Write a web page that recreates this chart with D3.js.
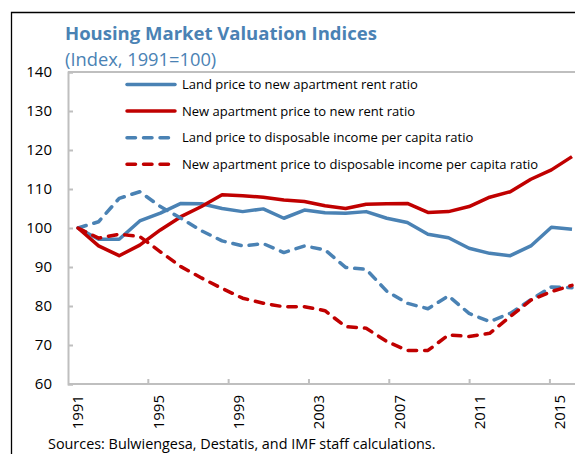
<!DOCTYPE html>
<html>
<head>
<meta charset="utf-8">
<script src="https://cdn.jsdelivr.net/npm/d3@7"></script>
<style>
    body { margin: 0; background: #fff; }
    svg { display: block; }
</style>
</head>
<body>
<div class="chart"></div>
<script>
// Chart settings
const width = 575;
const height = 454;
const font = "'Open Sans', 'Noto Sans', sans-serif";
const blue = "#4a82b4";
const red = "#c00000";

// Data
const years = ["1991", "1992", "1993", "1994", "1995", "1996", "1997", "1998", "1999", "2000",
    "2001", "2002", "2003", "2004", "2005", "2006", "2007", "2008", "2009", "2010",
    "2011", "2012", "2013", "2014", "2015"];
const labelYears = ["1991", "1995", "1999", "2003", "2007", "2011", "2015"];
const yTicks = [60, 70, 80, 90, 100, 110, 120, 130, 140];

const landRent = [100, 97.1, 97.1, 101.8, 103.8, 106.3, 106.2, 105.0, 104.2, 104.9,
    102.5, 104.6, 103.9, 103.8, 104.2, 102.5, 101.4, 98.4, 97.5, 94.8,
    93.5, 92.9, 95.4, 100.2, 99.7];
const aptRent = [100, 95.4, 92.9, 95.6, 99.5, 102.9, 105.5, 108.5, 108.3, 107.9,
    107.2, 106.8, 105.7, 105.0, 106.1, 106.2, 106.3, 104.0, 104.2, 105.5,
    107.9, 109.3, 112.5, 114.9, 118.3];
const landIncome = [100, 101.6, 107.6, 109.3, 105.5, 102.5, 99.3, 96.7, 95.4, 96.0,
    93.7, 95.4, 94.4, 89.9, 89.4, 83.8, 80.7, 79.3, 82.6, 78.1,
    76.0, 78.1, 81.6, 84.9, 84.7];
const aptIncome = [100, 97.4, 98.4, 97.8, 93.9, 90.1, 87.2, 84.5, 82.0, 80.7,
    79.8, 79.8, 78.8, 74.7, 74.3, 70.9, 68.6, 68.6, 72.6, 72.2,
    73.0, 77.3, 81.5, 83.7, 85.3];

const series = [
    {name: "Land price to new apartment rent ratio", values: landRent, color: blue, dashed: false},
    {name: "New apartment price to new rent ratio", values: aptRent, color: red, dashed: false},
    {name: "Land price to disposable income per capita ratio", values: landIncome, color: blue, dashed: true},
    {name: "New apartment price to disposable income per capita ratio", values: aptIncome, color: red, dashed: true}
];

const svg = d3.select(".chart")
    .append("svg")
    .attr("width", width)
    .attr("height", height)
    .style("font-family", font);

// Outer frame (left and top edges only, the rest is cropped)
svg.append("path")
    .attr("d", `M11.5,${height} V12.5 H${width}`)
    .attr("fill", "none")
    .attr("stroke", "#000")
    .attr("stroke-width", 1.3);

// Title
svg.append("text")
    .attr("x", 65)
    .attr("y", 40)
    .attr("fill", blue)
    .attr("font-size", 18.5)
    .attr("font-weight", "bold")
    .text("Housing Market Valuation Indices");

svg.append("text")
    .attr("x", 65)
    .attr("y", 66)
    .attr("fill", blue)
    .attr("font-size", 18.3)
    .text("(Index, 1991=100)");

// Scales
const y = d3.scaleLinear()
    .domain([60, 140])
    .range([384, 72]);

// category axis (labels + ticks)
const xAxisScale = d3.scaleBand()
    .domain(years)
    .range([68, 570]);

// line positions
const x = d3.scalePoint()
    .domain(years)
    .range([78, 572]);

// Plot frame top
svg.append("line")
    .attr("x1", 68).attr("x2", width)
    .attr("y1", y(140)).attr("y2", y(140))
    .attr("stroke", "#bfbfbf")
    .attr("stroke-width", 2);

// Y axis
const yAxis = svg.append("g")
    .attr("transform", "translate(68,0)")
    .call(d3.axisRight(y).tickValues(yTicks).tickSize(5).tickFormat(""));
yAxis.selectAll("line, path").attr("stroke", "#bfbfbf").attr("stroke-width", 2);

svg.append("g")
    .selectAll("text")
    .data(yTicks)
    .join("text")
    .attr("x", 52)
    .attr("y", d => y(d))
    .attr("dy", "0.35em")
    .attr("text-anchor", "end")
    .attr("font-size", 15)
    .attr("fill", "#000")
    .text(d => d);

// X axis
const xAxis = svg.append("g")
    .attr("transform", `translate(0,${y(60)})`)
    .call(d3.axisTop(xAxisScale)
        .tickValues(labelYears.slice(1))
        .tickSize(5)
        .tickFormat(""));
xAxis.selectAll(".tick")
    .attr("transform", d => `translate(${xAxisScale(d)},0)`);
xAxis.selectAll("line, path").attr("stroke", "#bfbfbf").attr("stroke-width", 2);
xAxis.select(".domain").attr("d", `M68,0H${width}`);

svg.append("g")
    .selectAll("text")
    .data(labelYears)
    .join("text")
    .attr("transform", d => `translate(${xAxisScale(d) + xAxisScale.bandwidth() / 2},395) rotate(-90)`)
    .attr("dy", "0.35em")
    .attr("text-anchor", "end")
    .attr("font-size", 15)
    .attr("fill", "#000")
    .text(d => d);

// Lines
const line = d3.line()
    .x((d, i) => x(years[i]))
    .y(d => y(d));

svg.append("g")
    .selectAll("path")
    .data(series)
    .join("path")
    .attr("d", d => line(d.values))
    .attr("fill", "none")
    .attr("stroke", d => d.color)
    .attr("stroke-width", 3.5)
    .attr("stroke-linejoin", "round")
    .attr("stroke-linecap", d => d.dashed ? "round" : "butt")
    .attr("stroke-dasharray", d => d.dashed ? "8.5,8" : null);

// Legend
const legend = svg.append("g")
    .selectAll("g")
    .data(series)
    .join("g")
    .attr("transform", (d, i) => `translate(125,${84.5 + i * 26.6})`);

legend.append("line")
    .attr("x1", 2).attr("x2", 50)
    .attr("stroke", d => d.color)
    .attr("stroke-width", 3.5)
    .attr("stroke-linecap", "round")
    .attr("stroke-dasharray", d => d.dashed ? "8.5,8" : null);

legend.append("text")
    .attr("x", 57)
    .attr("dy", "0.35em")
    .attr("font-size", 13)
    .attr("fill", "#000")
    .text(d => d.name);

// Source
svg.append("text")
    .attr("x", 48)
    .attr("y", 449)
    .attr("font-size", 14.4)
    .attr("fill", "#000")
    .text("Sources: Bulwiengesa, Destatis, and IMF staff calculations.");
</script>
</body>
</html>
